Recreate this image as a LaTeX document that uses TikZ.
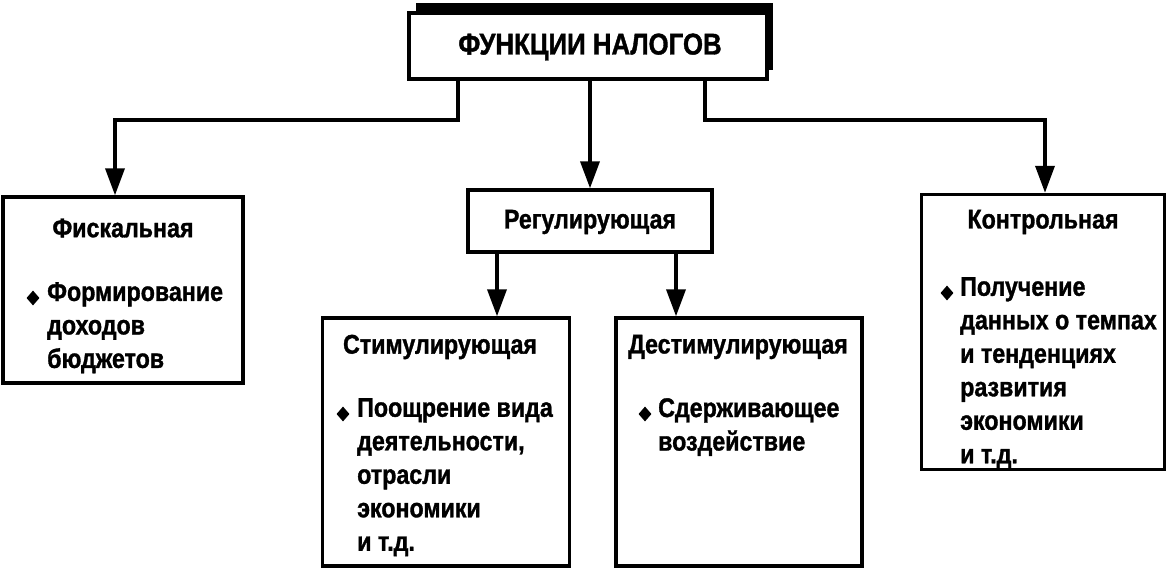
\documentclass[tikz,border=0pt]{standalone}
\usepackage{fontspec}
\setmainfont{Liberation Sans}[FakeStretch=0.86,BoldFeatures={FakeBold=1.2}]
\usetikzlibrary{arrows.meta,shapes.geometric}
\begin{document}
\begin{tikzpicture}[x=1pt,y=-1pt,
  box/.style={draw, line width=3.4pt, rectangle, inner sep=0pt},
  arr/.style={line width=3.6pt, -{Triangle[width=19pt,length=27pt]}},
  ttl/.style={font=\fontsize{27}{33}\selectfont\bfseries, inner sep=0pt},
  txt/.style={font=\fontsize{27}{33.5}\selectfont\bfseries, inner sep=0pt, align=left, anchor=north west},
  bul/.style={diamond, fill, inner sep=0pt, minimum width=13pt, minimum height=15pt}]
\useasboundingbox (0,0) rectangle (1170,570);
% top box with shadow
\fill (416,3) rectangle (773,70);
\node[box, fill=white, minimum width=358pt, minimum height=66pt] (top) at (588,46) {};
\node[ttl, font=\fontsize{30}{30}\selectfont\bfseries] (toptxt) at (590,47) {ФУНКЦИИ НАЛОГОВ};
% boxes
\node[box, minimum width=240pt, minimum height=186pt] (fisc) at (123,290) {};
\node[box, minimum width=244pt, minimum height=62pt] (reg) at (590,221) {};
\node[box, minimum width=247pt, minimum height=248pt] (stim) at (446,442) {};
\node[box, minimum width=246pt, minimum height=248pt] (dest) at (739,442) {};
\node[box, minimum width=243pt, minimum height=275pt] (ctrl) at (1043,332) {};
% titles
\node[ttl] (fisct) at (123,228) {Фискальная};
\node[ttl] (regt) at (590,222) {Регулирующая};
\node[ttl] (stimt) at (440,347) {Стимулирующая};
\node[ttl] (destt) at (738,347) {Дестимулирующая};
\node[ttl] (ctrlt) at (1043,222) {Контрольная};
% bullets and texts
\node[bul] (fiscb) at (33,298) {};
\node[txt] (fiscx) at (47,282) {Формирование\\доходов\\бюджетов};
\node[bul] (stimb) at (343,414) {};
\node[txt] (stimx) at (357,398) {Поощрение вида\\деятельности,\\отрасли\\экономики\\и т.д.};
\node[bul] (destb) at (645,414) {};
\node[txt] (destx) at (658,398) {Сдерживающее\\воздействие};
\node[bul] (ctrlb) at (947,293) {};
\node[txt] (ctrlx) at (960,277) {Получение\\данных о темпах\\и тенденциях\\развития\\экономики\\и т.д.};
% connectors
\draw[arr] ([xshift=-130pt]top.south) -- ++(0,39) -| ([xshift=-8pt]fisc.north);
\draw[arr] ([xshift=2pt]top.south) -- ([xshift=0pt]reg.north);
\draw[arr] ([xshift=117pt]top.south) -- ++(0,39) -| ([xshift=2pt]ctrl.north);
\draw[arr] ([xshift=-93pt]reg.south) -- ([xshift=-93pt]reg.south |- stim.north);
\draw[arr] ([xshift=86pt]reg.south) -- ([xshift=86pt]reg.south |- dest.north);
\end{tikzpicture}
\end{document}
